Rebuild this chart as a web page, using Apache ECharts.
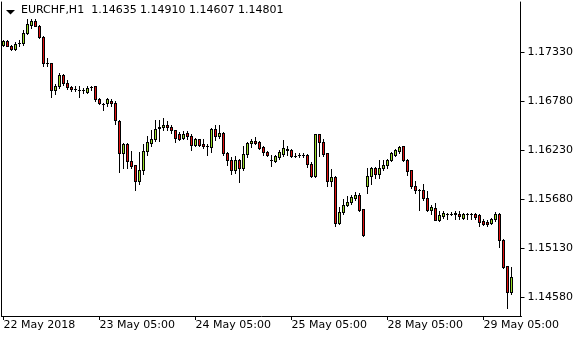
<!DOCTYPE html>
<html>
<head>
<meta charset="utf-8">
<script src="https://cdn.jsdelivr.net/npm/echarts@6/dist/echarts.min.js"></script>
<style>
html,body{margin:0;padding:0;background:#fff;}
#chart{width:580px;height:340px;}
</style>
</head>
<body>
<div id="chart"></div>
<script>
// ---- data ----
const symbol = 'EURCHF';
const period = 'H1';
const sessions = [['22 May',5,23],['23 May',0,23],['24 May',0,23],['25 May',0,23],['28 May',0,23],['29 May',0,12]];
const tickLabels = ['22 May 2018','23 May 05:00','24 May 05:00','25 May 05:00','28 May 05:00','29 May 05:00'];
const priceTicks = [1.14580,1.15130,1.15680,1.16230,1.16780,1.17330];

const opens = [1.17412,1.17449,1.17401,1.17364,1.17431,1.17431,1.17543,1.17636,1.17681,1.17625,
1.17498,1.17210,1.17199,1.16899,1.16944,1.17075,1.16985,1.16937,1.16918,1.16907,
1.16899,1.16884,1.16937,1.16944,1.16802,1.16746,1.16750,1.16780,1.16758,1.16559,
1.16196,1.16290,1.16110,1.16054,1.15878,1.16001,1.16214,1.16309,1.16346,1.16488,
1.16484,1.16514,1.16488,1.16447,1.16402,1.16365,1.16416,1.16390,1.16282,1.16346,
1.16290,1.16275,1.16264,1.16466,1.16383,1.16421,1.16196,1.16113,1.16001,1.16121,
1.16028,1.16185,1.16301,1.16331,1.16320,1.16259,1.16208,1.16118,1.16102,1.16147,
1.16185,1.16239,1.16233,1.16166,1.16169,1.16174,1.16177,1.16076,1.15934,1.16402,
1.16320,1.16189,1.15878,1.15927,1.15403,1.15530,1.15608,1.15642,1.15687,1.15728,
1.15560,1.15829,1.15934,1.16028,1.15953,1.16028,1.16054,1.16113,1.16177,1.16214,
1.16270,1.16121,1.15998,1.15829,1.15784,1.15784,1.15691,1.15552,1.15579,1.15440,
1.15485,1.15515,1.15515,1.15523,1.15515,1.15467,1.15507,1.15507,1.15507,1.15493,
1.15429,1.15417,1.15411,1.15448,1.15512,1.15223,1.14924,1.14635];

const closes = [1.17449,1.17401,1.17364,1.17423,1.17429,1.17543,1.17648,1.17676,1.17625,1.17502,
1.17206,1.17206,1.16899,1.16944,1.17067,1.16985,1.16933,1.16915,1.16918,1.16907,
1.16899,1.16926,1.16937,1.16795,1.16750,1.16746,1.16795,1.16758,1.16562,1.16196,
1.16290,1.16102,1.16046,1.15878,1.16009,1.16222,1.16320,1.16357,1.16469,1.16477,
1.16514,1.16484,1.16450,1.16365,1.16357,1.16413,1.16383,1.16282,1.16346,1.16282,
1.16270,1.16275,1.16466,1.16383,1.16424,1.16189,1.16113,1.16001,1.16113,1.16028,
1.16185,1.16309,1.16334,1.16309,1.16253,1.16203,1.16169,1.16113,1.16158,1.16203,
1.16245,1.16228,1.16158,1.16166,1.16169,1.16174,1.16073,1.15934,1.16402,1.16315,
1.16185,1.15878,1.15927,1.15403,1.15530,1.15616,1.15646,1.15703,1.15728,1.15552,
1.15279,1.15934,1.16028,1.15953,1.16028,1.16065,1.16121,1.16189,1.16226,1.16264,
1.16113,1.15990,1.15821,1.15777,1.15784,1.15691,1.15552,1.15586,1.15440,1.15493,
1.15523,1.15515,1.15515,1.15504,1.15485,1.15504,1.15507,1.15507,1.15478,1.15417,
1.15399,1.15399,1.15448,1.15512,1.15215,1.14912,1.14632,1.14801];

const highs = [1.17468,1.17460,1.17412,1.17438,1.17468,1.17580,1.17698,1.17704,1.17698,1.17636,
1.17505,1.17263,1.17206,1.16974,1.17094,1.17086,1.17011,1.16952,1.16944,1.16952,
1.16926,1.16941,1.16952,1.16952,1.16814,1.16758,1.16814,1.16795,1.16776,1.16570,
1.16309,1.16309,1.16214,1.16065,1.16203,1.16290,1.16390,1.16458,1.16570,1.16570,
1.16589,1.16551,1.16514,1.16458,1.16428,1.16439,1.16439,1.16402,1.16365,1.16354,
1.16357,1.16290,1.16477,1.16514,1.16503,1.16428,1.16208,1.16151,1.16155,1.16129,
1.16270,1.16315,1.16346,1.16376,1.16334,1.16278,1.16214,1.16177,1.16169,1.16226,
1.16338,1.16278,1.16241,1.16196,1.16192,1.16196,1.16185,1.16091,1.16413,1.16413,
1.16346,1.16196,1.16017,1.15934,1.15590,1.15680,1.15709,1.15728,1.15754,1.15740,
1.15568,1.16028,1.16039,1.16039,1.16121,1.16121,1.16129,1.16203,1.16241,1.16278,
1.16278,1.16132,1.16009,1.15878,1.15792,1.15841,1.15773,1.15616,1.15635,1.15541,
1.15541,1.15523,1.15530,1.15541,1.15541,1.15523,1.15523,1.15523,1.15523,1.15504,
1.15448,1.15440,1.15467,1.15530,1.15523,1.15230,1.14931,1.14910];

const lows = [1.17401,1.17393,1.17348,1.17348,1.17401,1.17412,1.17535,1.17603,1.17617,1.17490,
1.17176,1.17176,1.16825,1.16851,1.16926,1.16963,1.16915,1.16888,1.16888,1.16825,
1.16870,1.16873,1.16907,1.16776,1.16739,1.16682,1.16727,1.16719,1.16525,1.15979,
1.16031,1.16031,1.16031,1.15784,1.15841,1.15953,1.16177,1.16270,1.16327,1.16327,
1.16450,1.16458,1.16421,1.16320,1.16338,1.16346,1.16346,1.16233,1.16270,1.16270,
1.16253,1.16177,1.16203,1.16338,1.16365,1.16177,1.16065,1.15964,1.15975,1.15866,
1.16009,1.16151,1.16264,1.16290,1.16241,1.16177,1.16158,1.16046,1.16095,1.16132,
1.16166,1.16177,1.16147,1.16147,1.16151,1.16147,1.16035,1.15927,1.15927,1.16158,
1.16166,1.15829,1.15829,1.15372,1.15397,1.15504,1.15597,1.15627,1.15672,1.15541,
1.15260,1.15747,1.15841,1.15916,1.15916,1.16009,1.16028,1.16102,1.16166,1.16196,
1.16102,1.15942,1.15803,1.15740,1.15552,1.15672,1.15541,1.15504,1.15437,1.15429,
1.15467,1.15456,1.15493,1.15456,1.15456,1.15456,1.15456,1.15456,1.15456,1.15372,
1.15384,1.15372,1.15399,1.15429,1.15141,1.14906,1.14457,1.14607];

// ---- build ----
const categories = [];
sessions.forEach(function (s) {
  for (let h = s[1]; h <= s[2]; h++) {
    categories.push(s[0] + ' ' + (h < 10 ? '0' : '') + h + ':00');
  }
});
categories.push('', ''); // chart shift on the right

const bars = opens.map(function (o, i) { return [i, o, closes[i], lows[i], highs[i]]; });
const last = opens.length - 1;
const headerText = symbol + ',' + period + '  ' +
  [opens[last], highs[last], lows[last], closes[last]].map(function (v) { return v.toFixed(5); }).join(' ');

const BULL = '#9ADE28';
const BEAR = '#E01010';
const INK = '#000000';

function renderCandle(params, api) {
  const idx = api.value(0);
  const o = api.value(1), c = api.value(2), l = api.value(3), h = api.value(4);
  const po = api.coord([idx, o]);
  const pc = api.coord([idx, c]);
  const pl = api.coord([idx, l]);
  const ph = api.coord([idx, h]);
  const col = Math.floor(po[0]);            // pixel column of the candle centre
  const top = Math.floor(Math.min(po[1], pc[1]));
  const bot = Math.floor(Math.max(po[1], pc[1]));
  const yh = Math.floor(ph[1]);
  const yl = Math.floor(pl[1]);
  const children = [{
    type: 'rect',
    shape: {x: col, y: yh, width: 1, height: Math.max(1, yl - yh + 1)},
    style: {fill: INK}
  }];
  // outer black body
  children.push({
    type: 'rect',
    shape: {x: col - 1, y: top, width: 3, height: Math.max(1, bot - top + 1)},
    style: {fill: INK}
  });
  // coloured inside
  if (bot - top >= 2) {
    children.push({
      type: 'rect',
      shape: {x: col, y: top + 1, width: 1, height: bot - top - 1},
      style: {fill: c > o ? BULL : BEAR}
    });
  }
  return {type: 'group', children: children};
}

const FONT = 'DejaVu Sans';
const chart = echarts.init(document.getElementById('chart'), null, {renderer: 'canvas'});
chart.setOption({
  animation: false,
  backgroundColor: '#ffffff',
  title: {
    text: headerText,
    left: 21, top: 5,
    padding: 0,
    textStyle: {fontFamily: FONT, fontSize: 11, fontWeight: 'normal', color: '#000'}
  },
  graphic: [{
    type: 'polygon',
    shape: {points: [[6, 10], [15, 10], [10.5, 14.5]]},
    style: {fill: '#000'}
  }],
  grid: {left: 1.5, top: 2, width: 520, height: 314, containLabel: false},
  xAxis: {
    type: 'category',
    data: categories,
    boundaryGap: true,
    axisLine: {show: true, lineStyle: {color: '#000', width: 1}},
    axisTick: {show: true, interval: 23, alignWithLabel: true, length: 4, lineStyle: {color: '#000'}},
    axisLabel: {
      show: true, interval: 23, align: 'left', margin: 4,
      fontFamily: FONT, fontSize: 11, color: '#000',
      formatter: function (v, idx) { return tickLabels[Math.round(idx / 24)] || v; }
    },
    splitLine: {show: false}
  },
  yAxis: [{
    type: 'value',
    position: 'right',
    offset: -1,
    min: 1.14370, max: 1.17895,
    axisLine: {show: true, lineStyle: {color: '#000', width: 1}},
    axisTick: {show: true, length: 4, customValues: priceTicks, lineStyle: {color: '#000'}},
    axisLabel: {
      show: true, margin: 7, customValues: priceTicks,
      fontFamily: FONT, fontSize: 11, color: '#000',
      formatter: function (v) { return v.toFixed(5); }
    },
    splitLine: {show: false}
  }, {
    type: 'value',
    position: 'left',
    min: 1.14370, max: 1.17895,
    axisLine: {show: true, onZero: false, lineStyle: {color: '#000', width: 1}},
    axisTick: {show: false},
    axisLabel: {show: false},
    splitLine: {show: false}
  }],
  series: [{
    type: 'custom',
    yAxisIndex: 0,
    data: bars,
    encode: {x: 0, y: [1, 2, 3, 4]},
    renderItem: renderCandle,
    clip: true,
    markLine: {
      silent: true,
      symbol: 'none',
      animation: false,
      lineStyle: {opacity: 0},
      data: [{yAxis: closes[last]}],
      label: {
        show: true,
        position: 'end',
        distance: 0,
        formatter: function () { return closes[last].toFixed(5); },
        backgroundColor: '#000',
        color: '#fff',
        padding: [2, 6, 1, 6],
        fontFamily: FONT,
        fontSize: 11
      }
    }
  }]
});
</script>
</body>
</html>
